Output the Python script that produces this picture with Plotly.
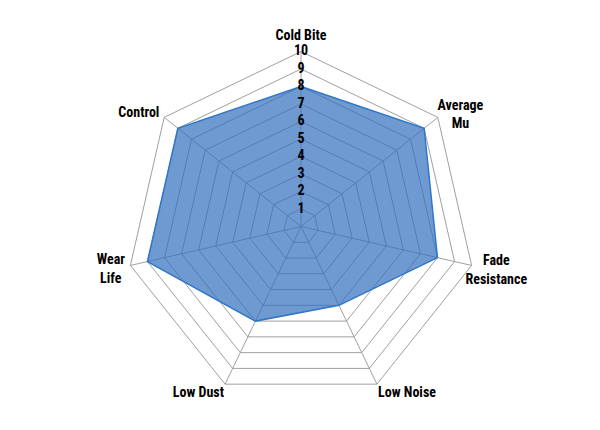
import plotly.graph_objects as go

# Brake pad performance ratings
categories = ["Cold Bite", "Average Mu", "Fade Resistance", "Low Noise",
              "Low Dust", "Wear Life", "Control"]
category_labels = ["Cold Bite", "Average<br>Mu", "Fade<br>Resistance", "Low Noise",
                   "Low Dust", "Wear<br>Life", "Control"]
ratings = [8, 9, 8, 5, 6, 9, 9]
scale_ticks = [1, 2, 3, 4, 5, 6, 7, 8, 9, 10]

# where each category label sits outside the outer ring
label_r = [10.85, 11.65, 11.45, 10.15, 10.15, 11.15, 10.35]
label_pos = ["middle center", "bottom center", "middle center", "bottom right",
             "bottom left", "middle center", "middle left"]

label_font = dict(family="Roboto Condensed, Arial Narrow, sans-serif",
                  size=14, color="black", weight="bold")
grid_col = "#a0a0a0"

fig = go.Figure()

# spokes from the centre to each corner (drawn under the fill)
for cat in categories:
    fig.add_trace(go.Scatterpolar(
        r=[0, scale_ticks[-1]], theta=[cat, cat], mode="lines",
        line=dict(color=grid_col, width=1),
        hoverinfo="skip", showlegend=False,
    ))

# Filled rating area (closed polygon)
fig.add_trace(go.Scatterpolar(
    r=ratings + ratings[:1],
    theta=categories + categories[:1],
    mode="lines",
    fill="toself",
    fillcolor="rgba(50,110,190,0.70)",
    line=dict(color="#2f78c8", width=1.5),
    hoverinfo="skip",
    showlegend=False,
))

# Scale numbers along the Cold Bite spoke
fig.add_trace(go.Scatterpolar(
    r=scale_ticks,
    theta=[categories[0]] * len(scale_ticks),
    mode="text",
    text=[str(t) for t in scale_ticks],
    textposition="middle center",
    textfont=label_font,
    hoverinfo="skip",
    showlegend=False,
))

# Category names outside each corner
fig.add_trace(go.Scatterpolar(
    r=label_r,
    theta=categories,
    mode="text",
    text=category_labels,
    textposition=label_pos,
    textfont=label_font,
    cliponaxis=False,
    hoverinfo="skip",
    showlegend=False,
))

fig.update_layout(
    width=600, height=430,
    margin=dict(l=73, r=87, t=12, b=5),
    paper_bgcolor="white",
    plot_bgcolor="white",
    font=label_font,
    polar=dict(
        bgcolor="white",
        gridshape="linear",
        radialaxis=dict(
            range=[0, 11.8], tickvals=scale_ticks, showticklabels=False, ticks="",
            showline=False, gridcolor=grid_col, gridwidth=1,
        ),
        angularaxis=dict(
            direction="clockwise", rotation=90,
            showline=False, showgrid=False, ticks="", showticklabels=False,
        ),
    ),
)

fig.write_html("out.html")
